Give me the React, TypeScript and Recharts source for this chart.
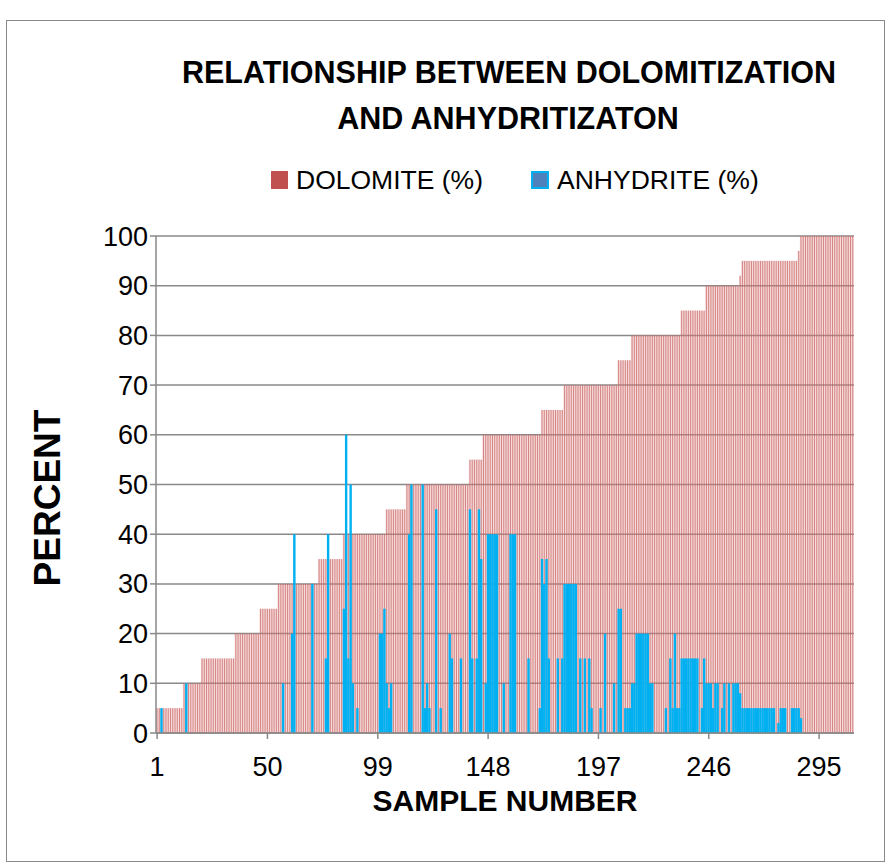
import { Bar, BarChart, CartesianGrid, XAxis, YAxis } from 'recharts';

const SAMPLE_COUNT = 310;
const X_TICKS = [1, 50, 99, 148, 197, 246, 295];
const Y_TICKS = [0, 10, 20, 30, 40, 50, 60, 70, 80, 90, 100];

// dolomite is a step series: [first sample of the step, percent]
const DOLOMITE_STEPS: [number, number][] = [
  [1, 5], [13, 10], [21, 15], [36, 20], [47, 25], [55, 30], [73, 35],
  [84, 40], [103, 45], [112, 50], [140, 55], [146, 60], [172, 65],
  [182, 70], [206, 75], [212, 80], [234, 85], [245, 90], [260, 92],
  [261, 95], [286, 97], [287, 100],
];

// anhydrite: [from sample, to sample, percent]
const ANHYDRITE_RUNS: [number, number, number][] = [
  [3, 3, 5], [14, 14, 10], [57, 57, 10], [61, 61, 20], [62, 62, 40],
  [70, 70, 30], [76, 76, 15], [77, 77, 40], [84, 84, 25], [85, 85, 60],
  [86, 86, 15], [87, 87, 50], [88, 88, 10], [90, 90, 5],
  [100, 101, 20], [102, 102, 25], [103, 103, 10], [104, 104, 5], [105, 105, 10],
  [113, 113, 40], [114, 114, 50], [119, 119, 50], [120, 120, 5], [121, 121, 10],
  [122, 122, 5], [125, 125, 45], [127, 127, 5], [131, 131, 20], [132, 132, 15],
  [136, 136, 15], [140, 140, 45], [141, 141, 15], [143, 143, 15], [144, 144, 45],
  [145, 145, 35], [147, 147, 10], [148, 152, 40], [155, 155, 10], [158, 160, 40],
  [166, 166, 15], [171, 171, 5], [172, 172, 35], [173, 173, 30], [174, 174, 35],
  [175, 175, 15], [179, 179, 15], [181, 181, 15], [182, 187, 30], [189, 189, 15],
  [191, 191, 15], [193, 193, 15], [194, 194, 5], [198, 198, 5], [200, 200, 20],
  [204, 204, 10], [206, 207, 25], [209, 211, 5], [212, 213, 10], [214, 219, 20],
  [220, 221, 10], [227, 227, 5], [229, 229, 15], [230, 230, 5], [231, 231, 20],
  [232, 233, 5], [234, 241, 15], [243, 243, 5], [244, 244, 15], [245, 247, 10],
  [248, 248, 5], [249, 250, 10], [252, 252, 5], [253, 253, 10], [255, 255, 10],
  [257, 259, 10], [260, 260, 8], [261, 275, 5], [277, 277, 2], [278, 280, 5],
  [283, 286, 5], [287, 287, 3],
];

const FONT = "'Liberation Sans', Arial, sans-serif";
const GRID = '#898989';

interface Row {
  sample: number;
  dolomite: number;
  anhydrite: number | null;
}

function buildRows(): Row[] {
  const rows: Row[] = [];
  for (let n = 1; n <= SAMPLE_COUNT; n++) {
    let dolomite = 0;
    for (const [start, v] of DOLOMITE_STEPS) if (n >= start) dolomite = v;
    const run = ANHYDRITE_RUNS.find(([a, b]) => n >= a && n <= b);
    rows.push({ sample: n, dolomite, anhydrite: run ? run[2] : null });
  }
  return rows;
}

// pale pink band with a thin darker stripe, like the Excel bars
function DolomiteBar(props: any) {
  const { x, y, width, height } = props;
  if (!height || height <= 0) return null;
  const cx = x + width / 2;
  return (
    <g>
      <rect x={cx - 1.13} y={y} width={2.26} height={height} fill="#E49A9A" fillOpacity={0.38} />
      <rect x={cx - 0.5} y={y} width={1} height={height} fill="#C0504D" fillOpacity={0.62} />
    </g>
  );
}

function AnhydriteBar(props: any) {
  const { x, y, width, height } = props;
  if (!height || height <= 0) return null;
  const cx = x + width / 2;
  return <rect x={cx - 1.2} y={y} width={2.4} height={height} fill="#00B0F0" />;
}

const TICK = { fontSize: 27, fill: '#000', fontFamily: FONT };

export default function App() {
  const rows = buildRows();
  return (
    <div style={{ position: 'absolute', left: 0, top: 0, width: 894, height: 868, background: '#fff' }}>
      <div
        style={{
          position: 'absolute',
          left: 6,
          top: 20,
          width: 877,
          height: 840,
          border: '1px solid #8a8a8a',
        }}
      />
      <div style={{ position: 'absolute', left: 0, top: 0 }}>
        <BarChart
          width={894}
          height={868}
          data={rows}
          margin={{ top: 236, right: 40, bottom: 75, left: 96 }}
          barCategoryGap={0}
          barGap={0}
        >
          <CartesianGrid vertical={false} stroke={GRID} strokeWidth={1.5} />
          <XAxis
            xAxisId={0}
            dataKey="sample"
            ticks={X_TICKS}
            interval={0}
            height={60}
            tickMargin={18}
            tick={TICK}
            axisLine={{ stroke: GRID, strokeWidth: 1.5 }}
            tickLine={{ stroke: GRID, strokeWidth: 1.5 }}
          />
          <XAxis xAxisId={1} dataKey="sample" hide />
          <YAxis
            yAxisId={0}
            domain={[0, 100]}
            ticks={Y_TICKS}
            interval={0}
            width={60}
            tick={TICK}
            axisLine={{ stroke: GRID, strokeWidth: 1.5 }}
            tickLine={{ stroke: GRID, strokeWidth: 1.5 }}
          />
          <YAxis yAxisId={1} domain={[0, 100]} hide />
          <Bar
            xAxisId={0}
            yAxisId={0}
            dataKey="dolomite"
            shape={DolomiteBar}
            isAnimationActive={false}
          />
          <Bar
            xAxisId={1}
            yAxisId={1}
            dataKey="anhydrite"
            shape={AnhydriteBar}
            isAnimationActive={false}
          />
        </BarChart>
      </div>
      <svg
        width={894}
        height={868}
        style={{ position: 'absolute', left: 0, top: 0, pointerEvents: 'none' }}
        fontFamily={FONT}
      >
        <text x={509} y={83} textAnchor="middle" fontWeight="bold" fontSize={30.5}>
          RELATIONSHIP BETWEEN DOLOMITIZATION
        </text>
        <text x={508} y={129} textAnchor="middle" fontWeight="bold" fontSize={30.5}>
          AND ANHYDRITIZATON
        </text>
        <rect x={271} y={171} width={17} height={18} fill="#C0504D" />
        <text x={296} y={189} fontSize={26.5}>
          DOLOMITE (%)
        </text>
        <rect x={532} y={172} width={16} height={16} fill="#4F81BD" stroke="#00B0F0" strokeWidth={2} />
        <text x={557} y={189} fontSize={26.5}>
          ANHYDRITE (%)
        </text>
        <text transform="translate(60,498) rotate(-90)" textAnchor="middle" fontWeight="bold" fontSize={37}>
          PERCENT
        </text>
        <text x={505} y={811} textAnchor="middle" fontWeight="bold" fontSize={30}>
          SAMPLE NUMBER
        </text>
      </svg>
    </div>
  );
}
